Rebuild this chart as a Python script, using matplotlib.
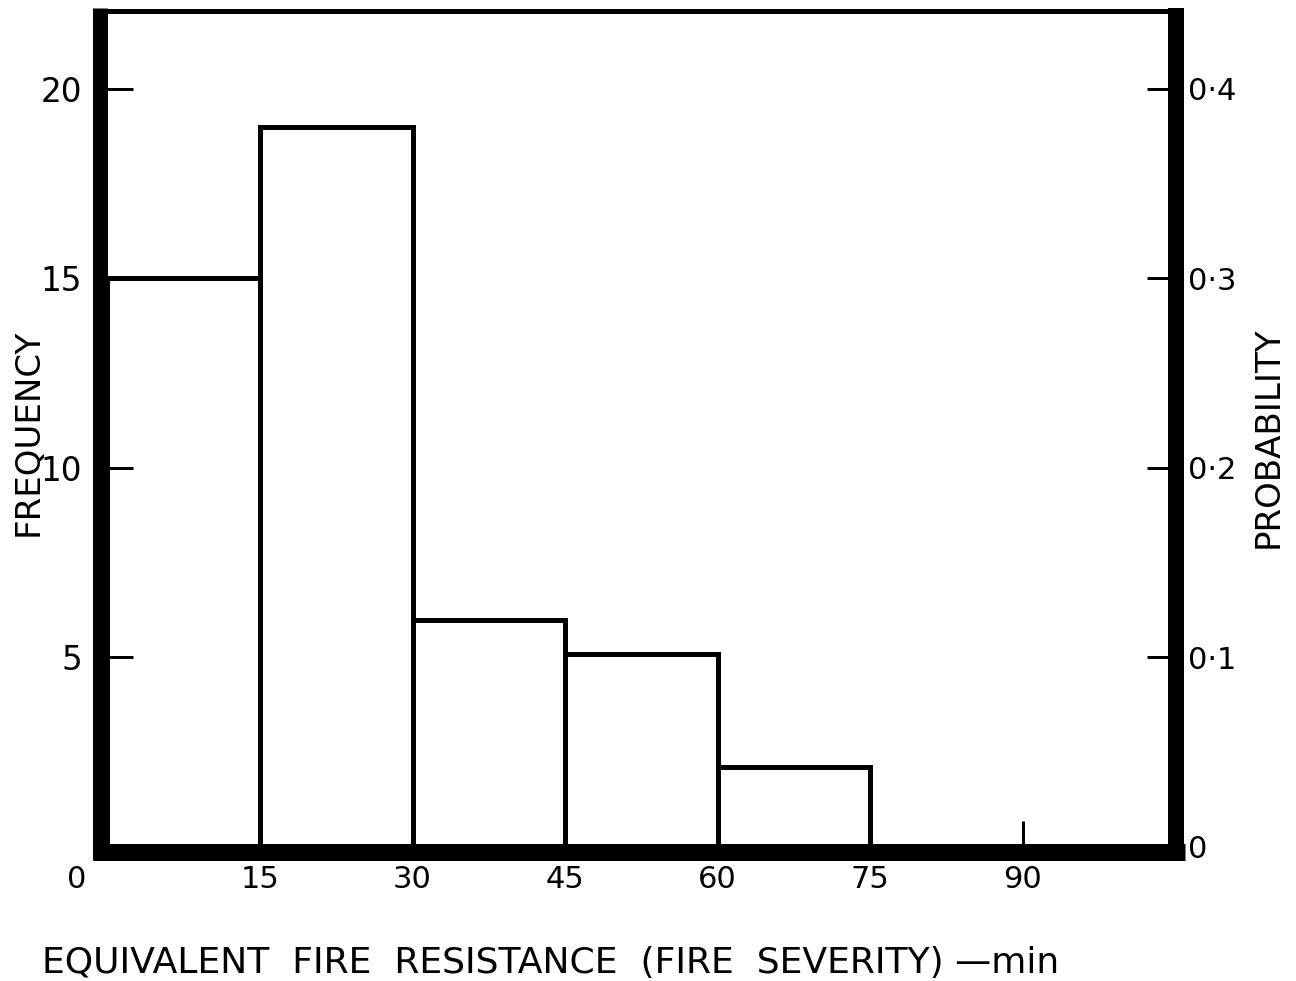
import matplotlib
matplotlib.use("Agg")
import matplotlib.pyplot as plt

# Data
bin_edges = [0, 15, 30, 45, 60, 75, 90]
frequency = [15, 19, 6, 5.1, 2.1, 0]
x_ticks = [15, 30, 45, 60, 75, 90]
x_tick_labels = ["15", "30", "45", "60", "75", "90"]
y_ticks = [5, 10, 15, 20]
y_tick_labels = ["5", "10", "15", "20"]
p_ticks = [0, 0.1, 0.2, 0.3, 0.4]
p_tick_labels = ["0", "0·1", "0·2", "0·3", "0·4"]
total = 50

plt.rcParams['font.family'] = ['DejaVu Sans']

W, H = 1296, 981
fig = plt.figure(figsize=(W / 100, H / 100), dpi=100)
px = 0.72  # points per pixel

x0, x1 = 107.5, 1175
y0, y1 = 847, 13
ax = fig.add_axes([x0 / W, (H - y0) / H, (x1 - x0) / W, (y0 - y1) / H])
ax.set_xlim(0, 105)
ax.set_ylim(0, 22)

lefts = bin_edges[:-1]
widths = [b - a for a, b in zip(bin_edges[:-1], bin_edges[1:])]
ax.bar(lefts, frequency, width=widths, align='edge', fill=False,
       edgecolor='black', linewidth=5 * px, joinstyle='miter')

# frame (spines)
ax.spines['right'].set_visible(False)
ax.spines['left'].set_linewidth(15 * px)
ax.spines['left'].set_position(('outward', 7 * px))
ax.spines['left'].set_capstyle('butt')
ax.spines['left'].set_bounds(-0.343, 22.14)
ax.spines['bottom'].set_linewidth(17 * px)
ax.spines['bottom'].set_position(('outward', 4.5 * px))
ax.spines['bottom'].set_capstyle('butt')
ax.spines['bottom'].set_bounds(-1.43, 106.0)
ax.spines['top'].set_linewidth(5 * px)
ax.spines['top'].set_position(('outward', 2.5 * px))
ax.spines['top'].set_capstyle('butt')
ax.spines['top'].set_bounds(-1.43, 105.8)

ax.set_xticks(x_ticks)
ax.set_xticklabels(x_tick_labels)
ax.set_yticks(y_ticks)
ax.set_yticklabels(y_tick_labels)
ax.tick_params(axis='x', direction='in', length=31.5 * px, width=3 * px,
               pad=13.5 * px, labelsize=22)
ax.tick_params(axis='y', direction='in', length=32.5 * px, width=3 * px,
               pad=18.5 * px, labelsize=23.5)

# origin label "0" on x axis
trans, va, ha = ax.get_xaxis_text1_transform(13.5 * px)
ax.text(-3, 0, "0", transform=trans, va=va, ha='center', fontsize=22)

# right probability axis
ax2 = ax.twinx()
ax2.set_ylim(0, 22 / total)
for s in ['left', 'top', 'bottom']:
    ax2.spines[s].set_visible(False)
ax2.spines['right'].set_linewidth(16 * px)
ax2.spines['right'].set_position(('outward', 1.5 * px))
ax2.spines['right'].set_capstyle('butt')
ax2.spines['right'].set_bounds(-0.343 / total, 22.14 / total)
ax2.set_yticks(p_ticks)
ax2.set_yticklabels(p_tick_labels)
ax2.tick_params(axis='y', direction='in', length=29.5 * px, width=3 * px,
                pad=11.5 * px, labelsize=22)

# axis titles
fig.text(28 / W, 1 - 432 / H, "FREQUENCY", rotation=90, ha='center',
         va='center', fontsize=24.5)
fig.text(1268 / W, 1 - 437 / H, "PROBABILITY", rotation=90, ha='center',
         va='center', fontsize=24.5)
fig.text(551 / W, 1 - 963 / H,
         "EQUIVALENT  FIRE  RESISTANCE  (FIRE  SEVERITY) —min",
         ha='center', va='center', fontsize=26)

fig.savefig("out.png", dpi=100, facecolor='white')
